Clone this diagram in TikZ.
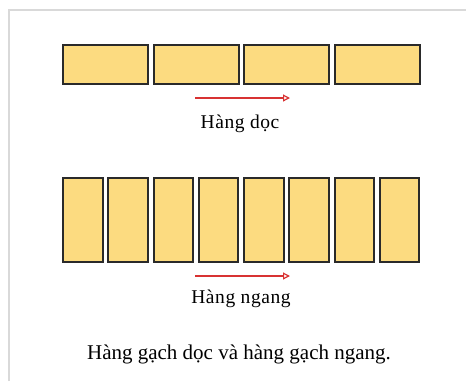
\documentclass[tikz,border=0pt]{standalone}
\usepackage{fontspec}
\setmainfont{Liberation Serif}
\usetikzlibrary{arrows.meta}
\definecolor{brick}{HTML}{FCDB80}
\definecolor{brickline}{HTML}{2A2A2A}
\definecolor{frameline}{HTML}{D9D9D9}
\definecolor{arrowred}{HTML}{D83232}
\tikzset{
  brickbox/.style={draw=brickline, fill=brick, line width=2pt, minimum height=#1, inner sep=0pt, anchor=north west},
  dirarrow/.style={draw=arrowred, line width=1.5pt, -{Triangle[open, length=7pt, width=7pt, line width=1.2pt]}},
  rowlabel/.style={font=\fontsize{19.5}{22}\selectfont\addfontfeature{LetterSpace=3}, anchor=base, inner sep=0pt},
  caption/.style={font=\fontsize{21}{24}\selectfont, anchor=base, inner sep=0pt}
}
\begin{document}
\begin{tikzpicture}[x=1pt, y=-1pt]
  \useasboundingbox (0,0) rectangle (466,381);
  % page frame: only the top and left edges fall inside the picture
  \draw[frameline, line width=1.6pt] (9,381) -- (9,10) -- (466,10);

  % upper row: four long bricks
  \foreach \i in {0,...,3} {
    \node[brickbox=39pt, minimum width=85pt] (a\i) at ({62+\i*90.5},44) {};
  }
  \coordinate (a1s) at (195,98);
  \coordinate (a1e) at (290,98);
  \draw[dirarrow] (a1s) -- (a1e);
  \node[rowlabel] (lab1) at (240,128) {Hàng dọc};

  % lower row: eight upright bricks
  \foreach \i in {0,...,7} {
    \node[brickbox=84pt, minimum width=39.5pt] (b\i) at ({62+\i*45.25},177) {};
  }
  \coordinate (a2s) at (195,276);
  \coordinate (a2e) at (290,276);
  \draw[dirarrow] (a2s) -- (a2e);
  \node[rowlabel] (lab2) at (241,303) {Hàng ngang};

  \node[caption] (cap) at (239,359) {Hàng gạch dọc và hàng gạch ngang.};
\end{tikzpicture}
\end{document}
